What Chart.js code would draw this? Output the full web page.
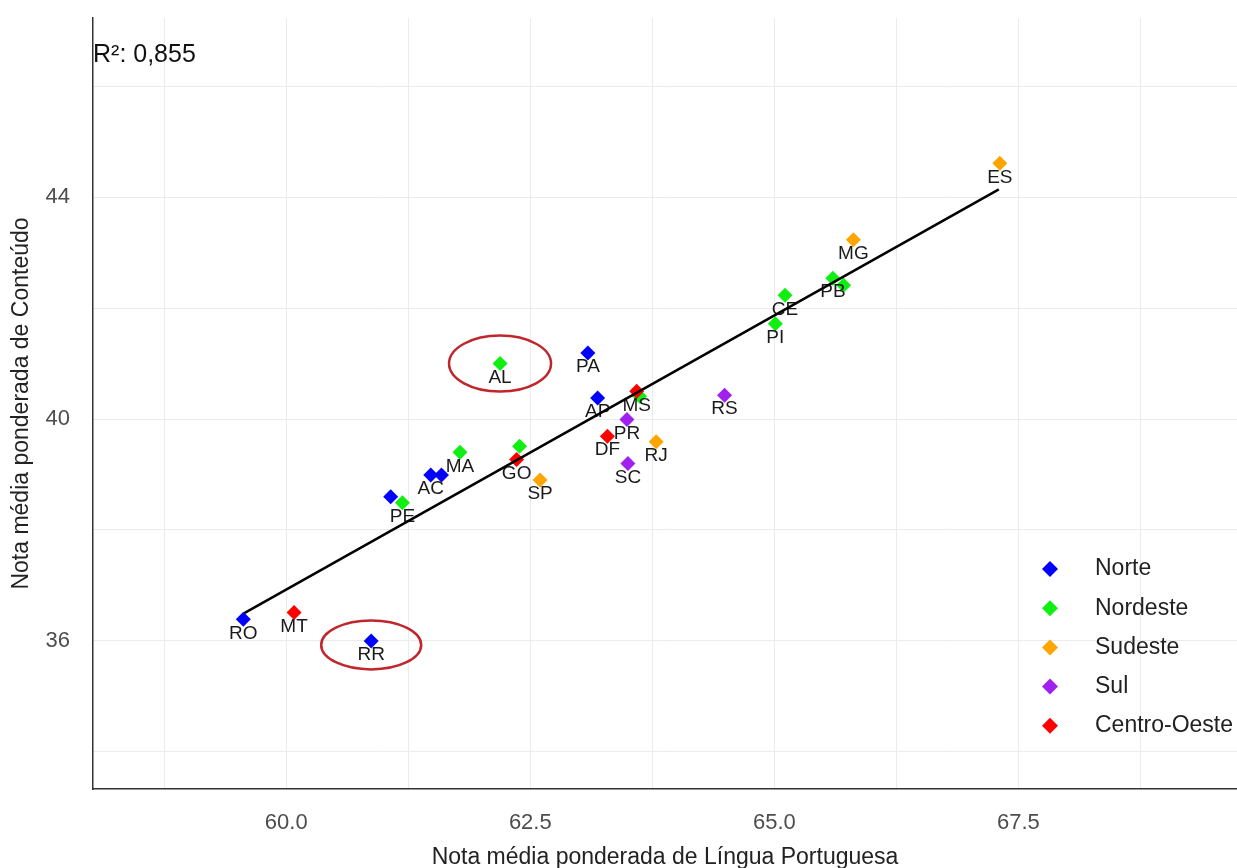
<!DOCTYPE html>
<html>
<head>
<meta charset="utf-8">
<script src="https://cdn.jsdelivr.net/npm/chart.js@4.4.1/dist/chart.umd.min.js"></script>
<style>
  html, body { margin: 0; padding: 0; background: #fff; }
  canvas { display: block; }
</style>
</head>
<body>
<canvas id="notasChart" width="1237" height="868"></canvas>
<script>
const regions = ['Norte', 'Nordeste', 'Sudeste', 'Sul', 'Centro-Oeste'];
const regionColors = ['#0000ff', '#11ee11', '#ffa500', '#a020f0', '#ff0000'];

// Língua Portuguesa (x) e Conteúdo (y) por UF
const norteUF = ['RO', 'RR', 'AC', 'AM', 'TO', 'PA', 'AP'];
const norteLP = [59.56, 60.87, 61.48, 61.59, 61.07, 63.09, 63.19];
const norteCont = [36.39, 36.00, 38.99, 38.99, 38.60, 41.19, 40.38];

const nordesteUF = ['PE', 'MA', 'AL', 'BA', 'SE', 'PI', 'CE', 'PB', 'RN'];
const nordesteLP = [61.19, 61.78, 62.19, 62.39, 63.62, 65.01, 65.11, 65.60, 65.71];
const nordesteCont = [38.49, 39.40, 41.00, 39.51, 40.41, 41.72, 42.23, 42.54, 42.41];

const sudesteUF = ['SP', 'RJ', 'MG', 'ES'];
const sudesteLP = [62.60, 63.79, 65.81, 67.31];
const sudesteCont = [38.90, 39.59, 43.23, 44.61];

const sulUF = ['SC', 'PR', 'RS'];
const sulLP = [63.50, 63.49, 64.49];
const sulCont = [39.20, 39.99, 40.43];

const centroUF = ['MT', 'GO', 'DF', 'MS'];
const centroLP = [60.08, 62.36, 63.29, 63.59];
const centroCont = [36.51, 39.27, 39.69, 40.50];

// UFs whose label is not shown (overlapping)
const hiddenLabels = ['AM', 'TO', 'BA', 'SE', 'RN'];
const circledUF = ['AL', 'RR'];

// regression line end points
const fitLP = [59.57, 67.30];
const fitCont = [36.50, 44.14];
const r2Text = 'R²: 0,855';

const xTicks = [58.75, 60, 61.25, 62.5, 63.75, 65, 66.25, 67.5, 68.75];
const xLabels = [60, 62.5, 65, 67.5];
const yTicks = [34, 36, 38, 40, 42, 44, 46];
const yLabels = [36, 40, 44];

const regionUF = [norteUF, nordesteUF, sudesteUF, sulUF, centroUF];
const regionLP = [norteLP, nordesteLP, sudesteLP, sulLP, centroLP];
const regionCont = [norteCont, nordesteCont, sudesteCont, sulCont, centroCont];

Chart.defaults.font.family = "'Liberation Sans', Arial, sans-serif";

const datasets = regions.map((name, i) => ({
  label: name,
  data: regionLP[i].map((x, j) => ({ x: x, y: regionCont[i][j] })),
  backgroundColor: regionColors[i],
  borderWidth: 0,
  pointStyle: 'rectRot',
  pointRadius: 7.5,
  order: regions.length - i
}));

datasets.push({
  type: 'line',
  label: 'fit',
  data: fitLP.map((x, j) => ({ x: x, y: fitCont[j] })),
  borderColor: '#000',
  borderWidth: 2.5,
  pointRadius: 0,
  showLine: true,
  fill: false,
  order: 0
});

function noEdgePadding(scale) {
  scale.paddingLeft = 0;
  scale.paddingRight = 0;
  scale.paddingTop = 0;
  scale.paddingBottom = 0;
}

const ufLabels = {
  id: 'ufLabels',
  afterDatasetDraw(chart, args) {
    if (args.index !== regions.length - 1) return;
    const ctx = chart.ctx;
    ctx.save();
    ctx.font = "19px 'Liberation Sans', Arial, sans-serif";
    ctx.fillStyle = '#1a1a1a';
    ctx.textAlign = 'center';
    ctx.textBaseline = 'middle';
    regionUF.forEach((ufs, i) => {
      const meta = chart.getDatasetMeta(i);
      ufs.forEach((uf, j) => {
        if (hiddenLabels.includes(uf)) return;
        const pt = meta.data[j];
        ctx.fillText(uf, pt.x, pt.y + 14);
      });
    });
    ctx.restore();
  }
};

const extras = {
  id: 'extras',
  afterDraw(chart) {
    const ctx = chart.ctx;
    const area = chart.chartArea;
    ctx.save();

    // R² annotation
    ctx.font = "25px 'Liberation Sans', Arial, sans-serif";
    ctx.fillStyle = '#111';
    ctx.textAlign = 'left';
    ctx.textBaseline = 'middle';
    ctx.fillText(r2Text, area.left, area.top + 37);

    // red ellipses around highlighted states
    ctx.strokeStyle = '#c0262c';
    ctx.lineWidth = 2.5;
    circledUF.forEach(uf => {
      regionUF.forEach((ufs, i) => {
        const j = ufs.indexOf(uf);
        if (j < 0) return;
        const pt = chart.getDatasetMeta(i).data[j];
        const big = uf === 'AL';
        ctx.beginPath();
        ctx.ellipse(pt.x, pt.y + (big ? 0 : 4), big ? 51 : 50, big ? 28 : 24.5, 0, 0, Math.PI * 2);
        ctx.stroke();
      });
    });

    // legend inside the panel
    const lx = area.right - 187;
    const ly = area.bottom - 220;
    ctx.font = "23px 'Liberation Sans', Arial, sans-serif";
    regions.forEach((name, i) => {
      const y = ly + i * 39.2;
      ctx.fillStyle = regionColors[i];
      ctx.beginPath();
      ctx.moveTo(lx - 8, y);
      ctx.lineTo(lx, y - 8);
      ctx.lineTo(lx + 8, y);
      ctx.lineTo(lx, y + 8);
      ctx.closePath();
      ctx.fill();
      ctx.fillStyle = '#222';
      ctx.fillText(name, lx + 45, y);
    });
    ctx.restore();
  }
};

const ctx = document.getElementById('notasChart').getContext('2d');
const chart = new Chart(ctx, {
  type: 'scatter',
  data: { datasets: datasets },
  plugins: [ufLabels, extras],
  options: {
    responsive: false,
    animation: false,
    events: [],
    layout: { autoPadding: false, padding: { top: 18, right: 0, bottom: 0, left: 0 } },
    plugins: {
      legend: { display: false },
      tooltip: { enabled: false }
    },
    scales: {
      x: {
        type: 'linear',
        min: 58.02,
        max: 69.74,
        afterBuildTicks: scale => { scale.ticks = xTicks.map(v => ({ value: v })); },
        afterFit: scale => { scale.height = 79; noEdgePadding(scale); },
        ticks: {
          autoSkip: false,
          maxRotation: 0,
          padding: 21,
          color: '#4d4d4d',
          font: { size: 22 },
          callback: value => xLabels.includes(value) ? value.toFixed(1) : ''
        },
        grid: { color: '#ebebeb', lineWidth: 1, drawTicks: false },
        border: { display: true, color: '#333', width: 1.5 },
        title: {
          display: true,
          text: 'Nota média ponderada de Língua Portuguesa',
          color: '#222',
          font: { size: 23, lineHeight: 1 },
          padding: { top: 0, bottom: -1 }
        }
      },
      y: {
        type: 'linear',
        min: 33.33,
        max: 47.23,
        afterBuildTicks: scale => { scale.ticks = yTicks.map(v => ({ value: v })); },
        afterFit: scale => { scale.width = 93; noEdgePadding(scale); },
        ticks: {
          autoSkip: false,
          padding: 23,
          color: '#4d4d4d',
          font: { size: 22 },
          callback: value => yLabels.includes(value) ? String(value) : ''
        },
        grid: { color: '#ebebeb', lineWidth: 1, drawTicks: false },
        border: { display: true, color: '#333', width: 1.5 },
        title: {
          display: true,
          text: 'Nota média ponderada de Conteúdo',
          color: '#222',
          font: { size: 23, lineHeight: 1 },
          padding: { top: 10, bottom: 0 }
        }
      }
    }
  }
});
</script>
</body>
</html>
